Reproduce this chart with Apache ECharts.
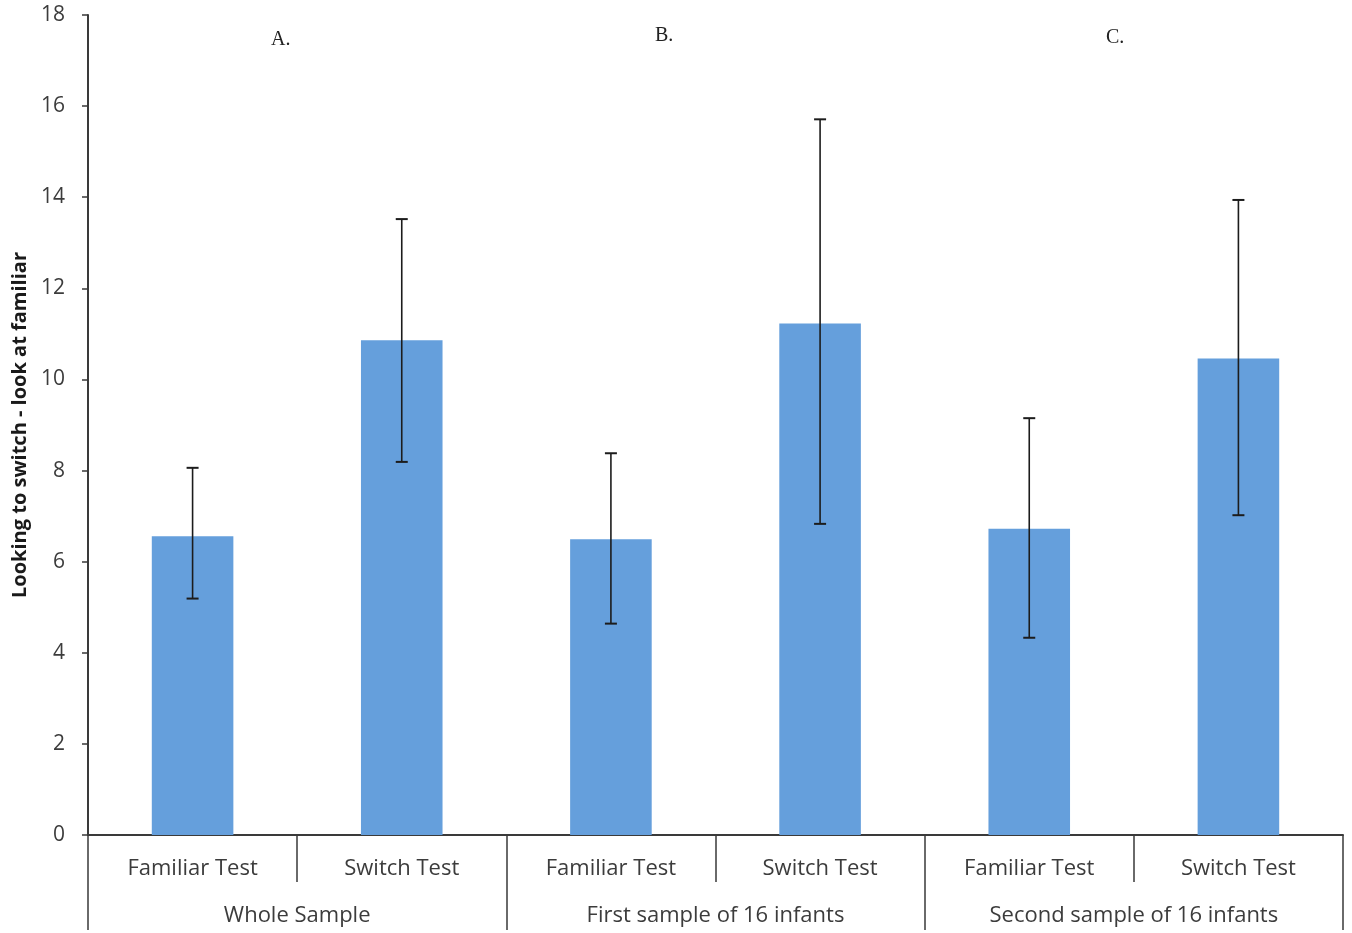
<!DOCTYPE html>
<html>
<head>
<meta charset="utf-8">
<script src="https://cdn.jsdelivr.net/npm/echarts@6/dist/echarts.min.js"></script>
<style>
html,body{margin:0;padding:0;background:#fff;}
#chart{width:1352px;height:933px;}
</style>
</head>
<body>
<div id="chart"></div>
<script>
var categories = ['Familiar Test','Switch Test','Familiar Test','Switch Test','Familiar Test','Switch Test'];
var groups = ['Whole Sample','First sample of 16 infants','Second sample of 16 infants'];
var means = [6.56, 10.86, 6.49, 11.23, 6.72, 10.46];
var errLow = [5.19, 8.19, 4.64, 6.83, 4.33, 7.02];
var errHigh = [8.06, 13.52, 8.38, 15.71, 9.15, 13.94];
var panelLabels = ['A.','B.','C.'];
var yTicks = {min:0, max:18, interval:2};

var chart = echarts.init(document.getElementById('chart'));
var axisColor = '#3a3a3a';
var textColor = '#3c3c3c';
var font = '"Open Sans", "Liberation Sans", sans-serif';

var errData = categories.map(function(c,i){ return [i, errLow[i], errHigh[i]]; });

chart.setOption({
  animation:false,
  backgroundColor:'#ffffff',
  grid:{left:88, right:9, top:15, bottom:98, containLabel:false, outerBoundsMode:'none'},
  xAxis:[{
    type:'category',
    data:categories,
    position:'bottom',
    axisLine:{show:true, lineStyle:{color:axisColor, width:2}},
    axisTick:{show:true, interval:0, length:47, lineStyle:{color:axisColor, width:1.5}},
    axisLabel:{interval:0, color:textColor, fontFamily:font, fontSize:22, margin:23},
    splitLine:{show:false}
  },{
    type:'category',
    data:groups,
    position:'bottom',
    gridIndex:0,
    axisLine:{show:false},
    axisTick:{show:true, interval:0, length:95, lineStyle:{color:axisColor, width:1.5}},
    axisLabel:{interval:0, color:textColor, fontFamily:font, fontSize:22, margin:70},
    splitLine:{show:false}
  }],
  yAxis:{
    type:'value',
    min:yTicks.min, max:yTicks.max, interval:yTicks.interval,
    name:'Looking to switch - look at familiar',
    nameLocation:'middle',
    nameGap:58,
    nameRotate:90,
    nameTextStyle:{color:'#1a1a1a', fontFamily:font, fontSize:20, fontWeight:'bold'},
    axisLine:{show:true, lineStyle:{color:axisColor, width:2}},
    axisTick:{show:true, length:6, lineStyle:{color:axisColor, width:1.5}},
    axisLabel:{color:textColor, fontFamily:font, fontSize:21, margin:23},
    splitLine:{show:false}
  },
  series:[{
    type:'bar',
    data:means,
    xAxisIndex:0,
    barWidth:'39%',
    itemStyle:{color:'#659FDC'}
  },{
    type:'custom',
    xAxisIndex:0,
    data:errData,
    z:10,
    renderItem:function(params, api){
      var x = api.value(0);
      var lo = api.coord([x, api.value(1)]);
      var hi = api.coord([x, api.value(2)]);
      var cap = 6;
      var st = {stroke:'#1c1c1c', lineWidth:1.6};
      return {type:'group', children:[
        {type:'line', shape:{x1:lo[0], y1:lo[1], x2:hi[0], y2:hi[1]}, style:st},
        {type:'line', shape:{x1:lo[0]-cap, y1:lo[1], x2:lo[0]+cap, y2:lo[1]}, style:{stroke:'#1c1c1c', lineWidth:2}},
        {type:'line', shape:{x1:hi[0]-cap, y1:hi[1], x2:hi[0]+cap, y2:hi[1]}, style:{stroke:'#1c1c1c', lineWidth:2}}
      ]};
    }
  }],
  graphic:[
    {type:'text', left:271, top:30, style:{text:panelLabels[0], font:'20px "Liberation Serif", serif', fill:'#222'}},
    {type:'text', left:655, top:26, style:{text:panelLabels[1], font:'20px "Liberation Serif", serif', fill:'#222'}},
    {type:'text', left:1106, top:28, style:{text:panelLabels[2], font:'20px "Liberation Serif", serif', fill:'#222'}}
  ]
});
</script>
</body>
</html>
